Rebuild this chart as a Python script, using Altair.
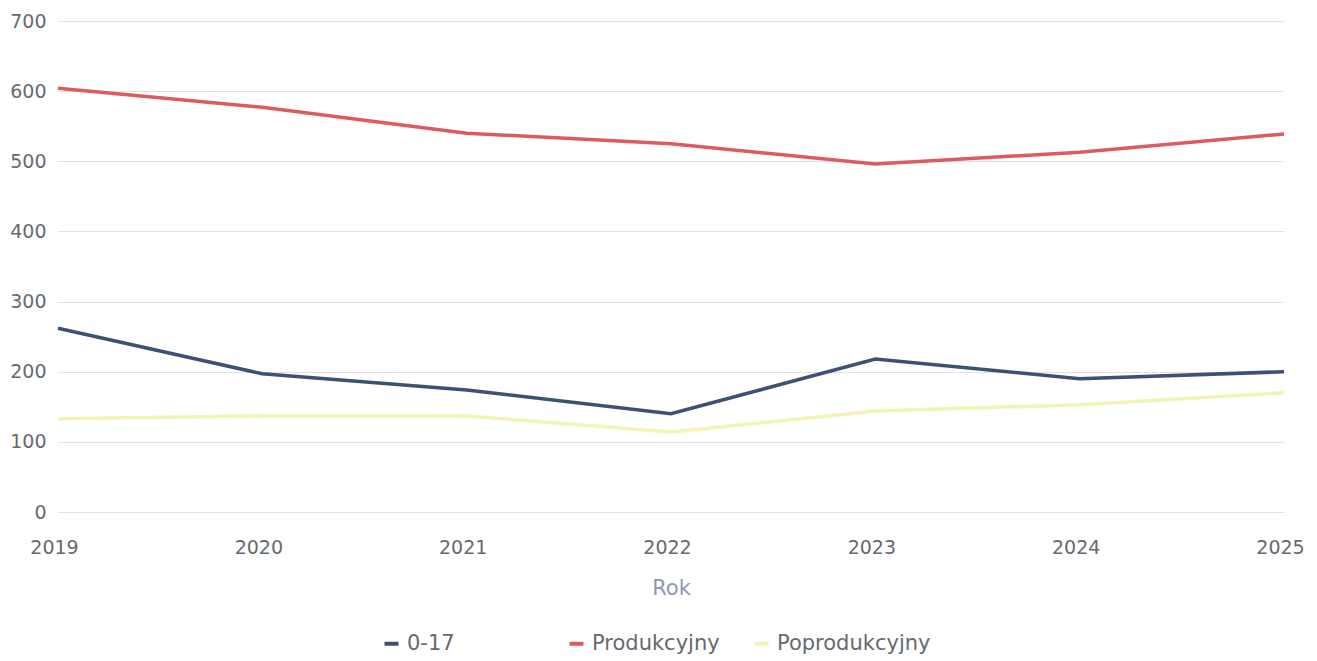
import altair as alt
import pandas as pd

years = [2019, 2020, 2021, 2022, 2023, 2024, 2025]
series_names = ["0-17", "Produkcyjny", "Poprodukcyjny"]
s_0_17 = [262, 197, 174, 140, 218, 190, 200]
s_prod = [604, 577, 540, 525, 496, 513, 539]
s_poprod = [133, 137, 137, 114, 144, 153, 170]
colors = ["#3b5272", "#df5a60", "#f3f3b4"]

rows = []
for name, vals in zip(series_names, [s_0_17, s_prod, s_poprod]):
    for y, v in zip(years, vals):
        rows.append({"Rok": y, "Seria": name, "Wartość": v})
df = pd.DataFrame(rows)

FONT = "DejaVu Sans"

chart = alt.Chart(df).mark_line(strokeWidth=3.5).encode(
    x=alt.X("Rok:Q",
            scale=alt.Scale(domain=[2019, 2025], nice=False, zero=False),
            axis=alt.Axis(values=years, format="d", title="Rok", grid=False,
                          domain=False, ticks=False, labelPadding=26,
                          labelFlush=False, labelBound=False, labelOffset=-4,
                          labelFontSize=19, labelColor="#666a70",
                          titleFontSize=21, titleFontWeight="normal",
                          titleColor="#8f97b5", titlePadding=20)),
    y=alt.Y("Wartość:Q",
            scale=alt.Scale(domain=[0, 700], nice=False),
            axis=alt.Axis(values=[0, 100, 200, 300, 400, 500, 600, 700], title=None,
                          domain=False, ticks=False, labelPadding=12,
                          labelFontSize=19, labelColor="#666a70",
                          gridColor="#e2e2e2", gridWidth=1.2)),
    color=alt.Color("Seria:N",
                    scale=alt.Scale(domain=series_names, range=colors),
                    sort=series_names,
                    legend=alt.Legend(title=None, orient="none", legendX=323, legendY=612,
                                      direction="horizontal", columns=3, gridAlign="all",
                                      columnPadding=0, symbolType="stroke",
                                      symbolStrokeWidth=4, symbolSize=196,
                                      labelFontSize=21, labelColor="#666a70",
                                      labelOffset=5)),
).properties(
    width=1226,
    height=491,
    padding={"left": 50, "top": 13, "right": 25, "bottom": 148},
    autosize=alt.AutoSizeParams(type="none"),
).configure(font=FONT).configure_view(stroke=None)

chart.save("out.html", embed_options={"renderer": "svg", "actions": False})
